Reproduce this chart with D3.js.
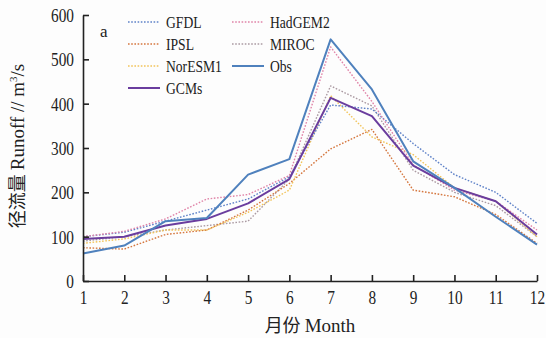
<!DOCTYPE html>
<html>
<head>
<meta charset="utf-8">
<script src="https://cdn.jsdelivr.net/npm/d3@7"></script>
<style>
  html, body { margin: 0; padding: 0; background: #fdfdfd; }
  svg { display: block; }
  text { font-family: "Liberation Serif", "Times New Roman", "DejaVu Serif", serif; fill: #222; }
</style>
</head>
<body>
<svg id="chart" width="546" height="338"></svg>
<script>
// Monthly runoff (m³/s): observations, individual GCMs and their ensemble
const months = [1, 2, 3, 4, 5, 6, 7, 8, 9, 10, 11, 12];
const yTicks = [0, 100, 200, 300, 400, 500, 600];

const gfdl    = [100, 110, 135, 160, 185, 235, 397, 388, 310, 240, 200, 130];
const hadgem2 = [100, 112, 140, 185, 195, 238, 528, 405, 262, 205, 180, 115];
const ipsl    = [75, 72, 105, 115, 160, 220, 298, 342, 205, 190, 150, 85];
const miroc   = [90, 100, 115, 125, 135, 230, 440, 395, 250, 200, 170, 100];
const noresm1 = [85, 95, 115, 115, 155, 205, 418, 325, 285, 210, 180, 100];
const obs     = [62, 80, 135, 142, 240, 275, 545, 432, 270, 210, 145, 82];
const gcms    = [95, 100, 125, 140, 175, 230, 413, 372, 260, 210, 180, 105];

const seriesNames = ["GFDL", "HadGEM2", "IPSL", "MIROC", "NorESM1", "Obs", "GCMs"];
const seriesValues = [gfdl, hadgem2, ipsl, miroc, noresm1, obs, gcms];
const seriesColors = ["#5f82c8", "#e084a8", "#d5773f", "#ab9aa2", "#f2c45a", "#4f81bd", "#6a3d9e"];
const seriesSolid = [false, false, false, false, false, true, true];

const serif = "'Liberation Serif', 'Times New Roman', 'DejaVu Serif', serif";
const cjk = "'Noto Sans CJK SC', sans-serif";

const svg = d3.select("#chart");
const plotLeft = 83, plotRight = 537, plotTop = 15, plotBottom = 281;

const x = d3.scaleLinear().domain([1, 12]).range([plotLeft, plotRight]);
const y = d3.scaleLinear().domain([0, 600]).range([plotBottom, plotTop]);

// narrow the serif glyphs a little
function condense(sel, k) {
  sel.each(function () {
    const w = this.getComputedTextLength();
    d3.select(this).attr("textLength", w * k).attr("lengthAdjust", "spacingAndGlyphs");
  });
}

// Lines, dotted models first so the solid lines sit on top
const line = d3.line().x((d, i) => x(months[i])).y(d => y(d));
const order = [3, 2, 4, 0, 1, 6, 5];
order.forEach(k => {
  svg.append("path")
    .datum(seriesValues[k])
    .attr("d", line)
    .attr("fill", "none")
    .attr("stroke", seriesColors[k])
    .attr("stroke-width", seriesSolid[k] ? 2 : 1.4)
    .attr("stroke-dasharray", seriesSolid[k] ? null : "1.6,1.6")
    .attr("stroke-linejoin", "round");
});

// Axes with inward ticks
const yAxis = d3.axisLeft(y).tickValues(yTicks).tickSize(-6).tickPadding(9).tickSizeOuter(0);
const gy = svg.append("g").attr("transform", `translate(${plotLeft},0)`).call(yAxis);
const xAxis = d3.axisBottom(x).tickValues(months).tickSize(-6).tickPadding(10).tickSizeOuter(0);
const gx = svg.append("g").attr("transform", `translate(0,${plotBottom})`).call(xAxis);

[gx, gy].forEach(g => {
  g.attr("font-family", null);
  g.select(".domain").attr("stroke", "#222").attr("stroke-width", 1.6);
  g.selectAll(".tick line").attr("stroke", "#222").attr("stroke-width", 1.6);
  g.selectAll(".tick text")
    .style("font-family", serif)
    .style("font-size", "18px")
    .attr("fill", "#222");
});
gy.selectAll(".tick text").attr("dy", "0.36em");
gx.selectAll(".tick text").attr("dy", "0.72em");
condense(gy.selectAll(".tick text"), 0.85);
condense(gx.selectAll(".tick text"), 0.85);

// Axis titles
const xt = svg.append("text")
  .attr("x", 310).attr("y", 332)
  .attr("text-anchor", "middle")
  .style("font-family", serif)
  .style("font-size", "19px");
xt.append("tspan").style("font-family", cjk).style("font-size", "18px").text("月份 ");
xt.append("tspan").text("Month");

const yt = svg.append("text")
  .attr("transform", "translate(24,146) rotate(-90)")
  .attr("text-anchor", "middle")
  .style("font-family", serif)
  .style("font-size", "19px");
yt.append("tspan").style("font-family", cjk).style("font-size", "18px").text("径流量 ");
yt.append("tspan").text("Runoff // m");
yt.append("tspan").attr("dy", -7).style("font-size", "11px").text("3");
yt.append("tspan").attr("dy", 7).text("/s");

// Panel letter
svg.append("text").attr("x", 100).attr("y", 37)
  .style("font-family", serif).style("font-size", "17px").text("a");

// Legend, two columns
const legendLayout = [
  { k: 0, lx: 128, ly: 22 }, { k: 1, lx: 232, ly: 22 },
  { k: 2, lx: 128, ly: 44 }, { k: 3, lx: 232, ly: 44 },
  { k: 4, lx: 128, ly: 66 }, { k: 5, lx: 232, ly: 66 },
  { k: 6, lx: 128, ly: 88 }
];
legendLayout.forEach(({ k, lx, ly }) => {
  svg.append("line")
    .attr("x1", lx).attr("x2", lx + 32).attr("y1", ly).attr("y2", ly)
    .attr("stroke", seriesColors[k])
    .attr("stroke-width", seriesSolid[k] ? 2 : 1.4)
    .attr("stroke-dasharray", seriesSolid[k] ? null : "1.6,1.6");
  const t = svg.append("text")
    .attr("x", lx + 38).attr("y", ly + 6)
    .style("font-family", serif)
    .style("font-size", "17px")
    .text(seriesNames[k]);
  condense(t, 0.8);
});
</script>
</body>
</html>
